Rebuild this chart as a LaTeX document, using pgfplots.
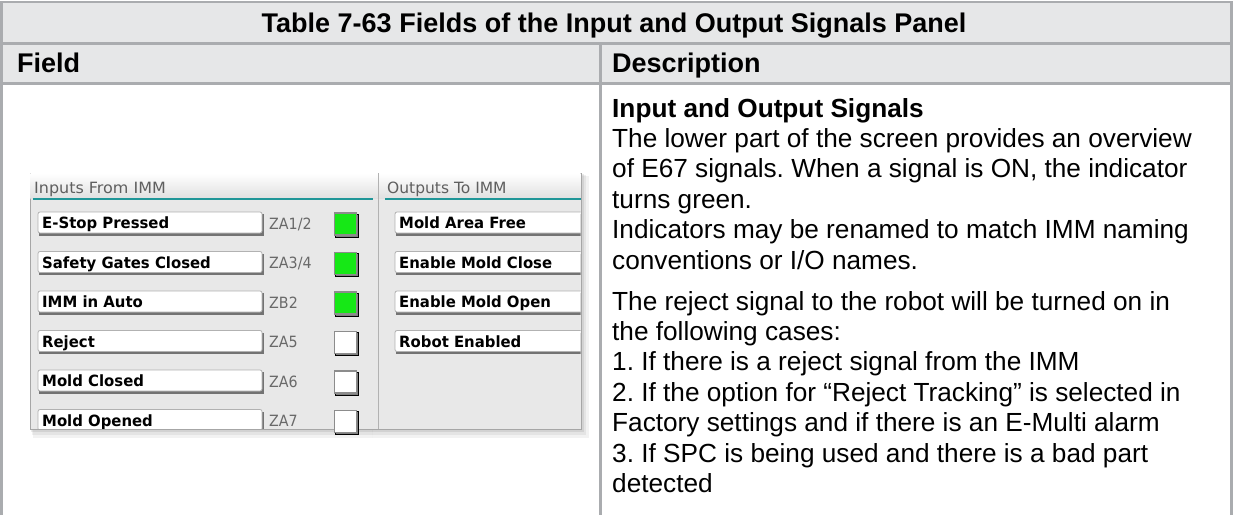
\documentclass[border=0pt]{standalone}
\usepackage{fontspec}
\setmainfont{Liberation Sans}
\newfontfamily\uifont{DejaVu Sans}
\usepackage{pgfplots}
\pgfplotsset{compat=1.18}
\frenchspacing
\definecolor{tblborder}{RGB}{170,172,175}
\definecolor{hdrbg}{RGB}{230,231,232}
\definecolor{panelbg}{RGB}{232,232,232}
\definecolor{tealline}{RGB}{32,150,152}
\definecolor{ongreen}{RGB}{22,232,22}
\definecolor{zagray}{RGB}{105,105,105}
\definecolor{uigray}{RGB}{95,95,95}
\newcommand\bodyfont{\fontsize{26.2}{30}\selectfont}
\newcommand\titlefont{\bfseries\fontsize{27}{30}\selectfont}
\newcommand\uibold{\uifont\bfseries\fontsize{15.5}{17}\selectfont}
\newcommand\uireg{\uifont\fontsize{15.5}{17}\selectfont}
% field box: x1, x2, yc, text
\newcommand\fieldbox[4]{%
  \fill[black!55] (#1+1,#3-9) rectangle (#2+1.5,#3+12.5);
  \fill[white,draw=black!30,line width=0.8pt,rounded corners=2pt] (#1,#3-11) rectangle (#2,#3+10);
  \node[anchor=base west,inner sep=0pt,font=\uibold] at (#1+4,#3+5.5) {\scalebox{0.96}[1]{#4}};
}
\newcommand\zalabel[2]{%
  \node[anchor=base west,inner sep=0pt,font=\uireg,text=zagray] at (269,#1+6) {\scalebox{0.92}[1]{#2}};
}
\newcommand\panelshadow{%
  \fill[black,opacity=0.05] (33,176) rectangle (589,438);
  \fill[black,opacity=0.06] (32,175) rectangle (586,435);
  \fill[black,opacity=0.08] (31,174) rectangle (584,432);
}
\newcommand\bodyline[2]{%
  \node[anchor=base west,inner sep=0pt,font=\bodyfont] at (612,#1) {#2};
}
\begin{document}
\begin{tikzpicture}
\begin{axis}[
  width=1233pt, height=515pt, scale only axis,
  xmin=0, xmax=1233, ymin=0, ymax=515, y dir=reverse,
  hide axis, clip=false,
]
\path (0,0) rectangle (1233,515);
% ---------- table frame ----------
\fill[hdrbg] (1.5,2) rectangle (1231.5,83.5);
\draw[tblborder,line width=2.4pt] (1.5,515) -- (1.5,2.2) -- (1231.5,2.2) -- (1231.5,515);
\draw[tblborder,line width=2.4pt] (1.5,43.5) -- (1231.5,43.5);
\draw[tblborder,line width=2.4pt] (1.5,83.5) -- (1231.5,83.5);
\draw[tblborder,line width=2.4pt] (600.5,43.5) -- (600.5,515);
\node[anchor=base,inner sep=0pt,font=\titlefont] at (614,32.5) {Table 7-63 Fields of the Input and Output Signals Panel};
\node[anchor=base west,inner sep=0pt,font=\titlefont] at (17,73) {Field};
\node[anchor=base west,inner sep=0pt,font=\titlefont] at (612,73) {Description};
% ---------- description text ----------
\node[anchor=base west,inner sep=0pt,font=\bfseries\bodyfont] at (612,117) {Input and Output Signals};
\bodyline{147.4}{The lower part of the screen provides an overview}
\bodyline{177.8}{of E67 signals. When a signal is ON, the indicator}
\bodyline{208.2}{turns green.}
\bodyline{238.6}{Indicators may be renamed to match IMM naming}
\bodyline{269}{conventions or I/O names.}
\bodyline{310}{The reject signal to the robot will be turned on in}
\bodyline{340.4}{the following cases:}
\bodyline{370.8}{1. If there is a reject signal from the IMM}
\bodyline{401.2}{2. If the option for “Reject Tracking” is selected in}
\bodyline{431.6}{Factory settings and if there is an E-Multi alarm}
\bodyline{462}{3. If SPC is being used and there is a bad part}
\bodyline{492.4}{detected}
% ---------- screenshot panel ----------
\panelshadow
\fill[panelbg,draw=black!35,line width=0.8pt] (30,173) rectangle (581,429);
\shade[top color=white,bottom color=black!12] (30.4,173.4) rectangle (580.6,198);
\draw[black!30,line width=1.6pt] (378.5,173.4) -- (378.5,428.6);
\draw[tealline,line width=2.2pt] (33,199) -- (373,199);
\draw[tealline,line width=2.2pt] (385,199) -- (580.6,199);
\node[anchor=base west,inner sep=0pt,font=\uireg,text=uigray] at (34,193) {\scalebox{1.03}[1]{Inputs From IMM}};
\node[anchor=base west,inner sep=0pt,font=\uireg,text=uigray] at (387,193) {\scalebox{1.0}[1]{Outputs To IMM}};
\begin{scope}
\clip (30.4,173.4) rectangle (580.6,428.6);
\fieldbox{38}{262}{223}{E-Stop Pressed}
\fieldbox{38}{262}{262.5}{Safety Gates Closed}
\fieldbox{38}{262}{302}{IMM in Auto}
\fieldbox{38}{262}{341.5}{Reject}
\fieldbox{38}{262}{381}{Mold Closed}
\fieldbox{38}{262}{420.5}{Mold Opened}
\zalabel{223}{ZA1/2}
\zalabel{262.5}{ZA3/4}
\zalabel{302}{ZB2}
\zalabel{341.5}{ZA5}
\zalabel{381}{ZA6}
\zalabel{420.5}{ZA7}
\fieldbox{395}{600}{223}{Mold Area Free}
\fieldbox{395}{600}{262.5}{Enable Mold Close}
\fieldbox{395}{600}{302}{Enable Mold Open}
\fieldbox{395}{600}{341.5}{Robot Enabled}
\end{scope}
% ---------- indicator lamps (data) ----------
\addplot[only marks, mark=square*, mark size=11.5pt,
  mark options={fill=black!50,draw=none,xshift=1.5pt,yshift=-1.5pt}]
  coordinates {(345.5,224) (345.5,263.5) (345.5,303) (345.5,342.5) (345.5,382) (345.5,421.5)};
\addplot[only marks, mark=square*, mark size=11pt,
  mark options={fill=ongreen,draw=black!45,line width=1.6pt,rounded corners=2.5pt}]
  coordinates {(345.5,224) (345.5,263.5) (345.5,303)};
\addplot[only marks, mark=square*, mark size=11pt,
  mark options={fill=white,draw=black!45,line width=1.6pt,rounded corners=2.5pt}]
  coordinates {(345.5,342.5) (345.5,382) (345.5,421.5)};
% cut the last lamp at the panel's lower edge
\fill[white] (320,429.2) rectangle (372,446);
\begin{scope}
\clip (320,429.2) rectangle (372,446);
\panelshadow
\end{scope}
\draw[black!35,line width=0.8pt] (318,429) -- (374,429);
\end{axis}
\end{tikzpicture}
\end{document}
